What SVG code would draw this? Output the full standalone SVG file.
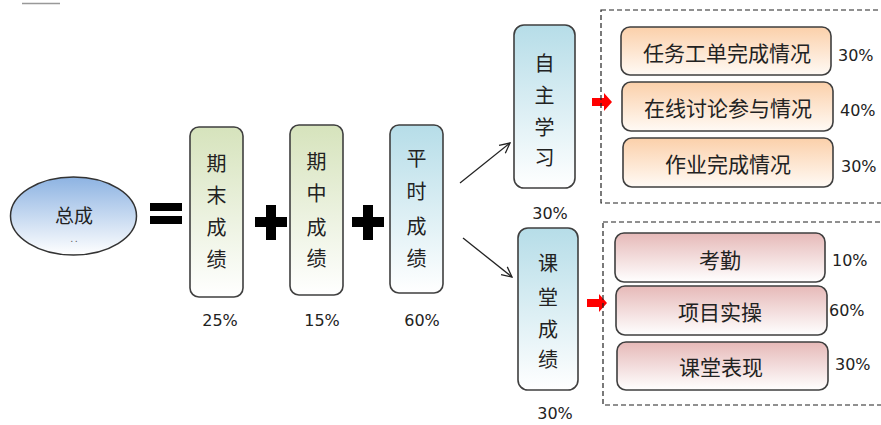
<svg xmlns="http://www.w3.org/2000/svg" width="881" height="425" viewBox="0 0 881 425">
<defs>
<linearGradient id="gBlueE" x1="0" y1="0" x2="0" y2="1"><stop offset="0" stop-color="#8db3e2"/><stop offset="1" stop-color="#ffffff"/></linearGradient>
<linearGradient id="gGreen" x1="0" y1="0" x2="0" y2="1"><stop offset="0" stop-color="#d6e3bc"/><stop offset="1" stop-color="#ffffff"/></linearGradient>
<linearGradient id="gBlue" x1="0" y1="0" x2="0" y2="1"><stop offset="0" stop-color="#b6dde8"/><stop offset="1" stop-color="#ffffff"/></linearGradient>
<linearGradient id="gOrange" x1="0" y1="0" x2="0" y2="1"><stop offset="0" stop-color="#fbd0aa"/><stop offset="1" stop-color="#fffaf5"/></linearGradient>
<linearGradient id="gPink" x1="0" y1="0" x2="0" y2="1"><stop offset="0" stop-color="#e6b9b8"/><stop offset="1" stop-color="#ffffff"/></linearGradient>
<marker id="ah" viewBox="0 0 12 12" refX="11" refY="6" markerWidth="12" markerHeight="12" markerUnits="userSpaceOnUse" orient="auto"><path d="M1,1 L11,6 L1,11" fill="none" stroke="#222" stroke-width="1.3"/></marker>
</defs>
<style>
text{font-family:"Noto Sans CJK SC","Liberation Sans",sans-serif;fill:#222}
.box{stroke:#3f3f3f;stroke-width:1.6}
.v{font-size:20px;text-anchor:middle;dominant-baseline:central}
.h{font-size:21px;text-anchor:middle;dominant-baseline:central}
.pct{font-family:"DejaVu Sans","Liberation Sans",sans-serif;font-size:16px;dominant-baseline:central;fill:#222}
.dash{fill:none;stroke:#222;stroke-width:1.2;stroke-dasharray:5,3}
.op{fill:#000}
.red{fill:#ff0000}
</style>
<rect width="881" height="425" fill="#ffffff"/>
<line x1="22" y1="3.5" x2="60" y2="3.5" stroke="#999" stroke-width="1.5"/>

<g id="connectors">
<line x1="460" y1="183" x2="510" y2="143" stroke="#222" stroke-width="1.3" marker-end="url(#ah)"/>
<line x1="463" y1="238" x2="512" y2="277" stroke="#222" stroke-width="1.3" marker-end="url(#ah)"/>
<path class="red" d="M592,98 H604 V93 L612,102 L604,111 V106 H592 Z"/>
<path class="red" d="M587,299 H599 V294 L607,303 L599,312 V307 H587 Z"/>
</g>

<g id="total">
<ellipse cx="73.5" cy="216" rx="63" ry="39" fill="url(#gBlueE)" stroke="#333" stroke-width="1.5"/>
<text x="74" y="214" class="h" style="font-size:19px">总成</text>
<text x="74" y="238" class="h" style="font-size:9px;fill:#666">. .</text>
</g>

<g id="eq">
<rect class="op" x="150" y="203" width="32" height="8"/>
<rect class="op" x="150" y="216" width="32" height="8"/>
</g>

<g id="final">
<rect class="box" x="190" y="127" width="53" height="170" rx="9" fill="url(#gGreen)"/>
<text class="v" x="216.5" y="162">期</text>
<text class="v" x="216.5" y="194">末</text>
<text class="v" x="216.5" y="226">成</text>
<text class="v" x="216.5" y="258">绩</text>
<text class="pct" x="220" y="320" text-anchor="middle">25%</text>
</g>

<g id="plus1"><rect class="op" x="255" y="217" width="32" height="10"/><rect class="op" x="266" y="205" width="10" height="35"/></g>

<g id="mid">
<rect class="box" x="290" y="125" width="53" height="170" rx="9" fill="url(#gGreen)"/>
<text class="v" x="316.5" y="160">期</text>
<text class="v" x="316.5" y="192">中</text>
<text class="v" x="316.5" y="226">成</text>
<text class="v" x="316.5" y="257">绩</text>
<text class="pct" x="322" y="320" text-anchor="middle">15%</text>
</g>

<g id="plus2"><rect class="op" x="352" y="217" width="32" height="10"/><rect class="op" x="363" y="205" width="10" height="35"/></g>

<g id="usual">
<rect class="box" x="390" y="125" width="53" height="168" rx="9" fill="url(#gBlue)"/>
<text class="v" x="416.5" y="157">平</text>
<text class="v" x="416.5" y="190">时</text>
<text class="v" x="416.5" y="225">成</text>
<text class="v" x="416.5" y="257">绩</text>
<text class="pct" x="422" y="320" text-anchor="middle">60%</text>
</g>

<g id="self">
<rect class="box" x="514" y="25" width="61" height="163" rx="10" fill="url(#gBlue)"/>
<text class="v" x="544.5" y="62">自</text>
<text class="v" x="544.5" y="94">主</text>
<text class="v" x="544.5" y="126">学</text>
<text class="v" x="544.5" y="156">习</text>
<text class="pct" x="550" y="213" text-anchor="middle">30%</text>
</g>

<g id="classroom">
<rect class="box" x="518" y="228" width="60" height="162" rx="10" fill="url(#gBlue)"/>
<text class="v" x="548" y="262">课</text>
<text class="v" x="548" y="296">堂</text>
<text class="v" x="548" y="328">成</text>
<text class="v" x="548" y="358">绩</text>
<text class="pct" x="555" y="413" text-anchor="middle">30%</text>
</g>

<g id="selfGroup">
<rect class="dash" x="601" y="10" width="300" height="193"/>
</g>
<g id="task">
<rect class="box" x="621" y="27" width="210" height="48" rx="9" fill="url(#gOrange)"/>
<text class="h" x="727" y="52">任务工单完成情况</text>
<text class="pct" x="838" y="55">30%</text>
</g>
<g id="discuss">
<rect class="box" x="622" y="82" width="211" height="49" rx="9" fill="url(#gOrange)"/>
<text class="h" x="728" y="107">在线讨论参与情况</text>
<text class="pct" x="840" y="110">40%</text>
</g>
<g id="homework">
<rect class="box" x="623" y="138" width="210" height="49" rx="9" fill="url(#gOrange)"/>
<text class="h" x="728" y="163">作业完成情况</text>
<text class="pct" x="841" y="166">30%</text>
</g>

<g id="classGroup">
<rect class="dash" x="603" y="222" width="300" height="183"/>
</g>
<g id="attend">
<rect class="box" x="615" y="233" width="210" height="49" rx="9" fill="url(#gPink)"/>
<text class="h" x="720" y="259">考勤</text>
<text class="pct" x="832" y="260">10%</text>
</g>
<g id="project">
<rect class="box" x="616" y="286" width="211" height="49" rx="9" fill="url(#gPink)"/>
<text class="h" x="720" y="311">项目实操</text>
<text class="pct" x="829" y="310">60%</text>
</g>
<g id="perform">
<rect class="box" x="617" y="342" width="211" height="48" rx="9" fill="url(#gPink)"/>
<text class="h" x="721" y="366">课堂表现</text>
<text class="pct" x="835" y="364">30%</text>
</g>
</svg>
